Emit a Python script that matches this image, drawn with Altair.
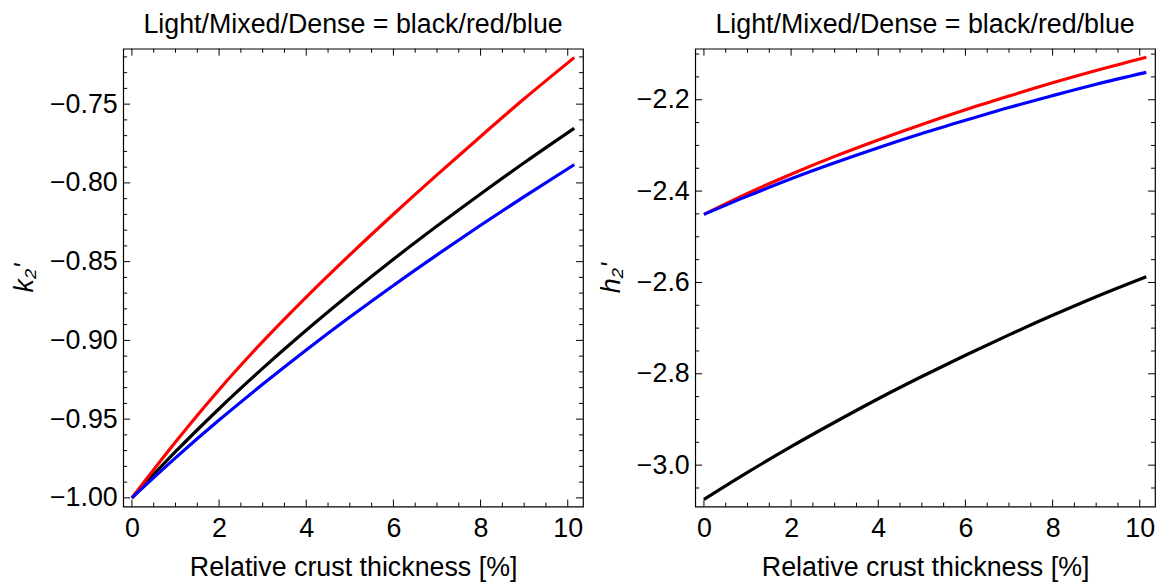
import altair as alt
import pandas as pd

# ---- data ----
x_vals = [0, 1, 2, 3, 4, 5, 6, 7, 8, 9, 10.15]

k2_light = [-1.0, -0.9707, -0.9434, -0.9178, -0.8936, -0.8706, -0.8485, -0.8274, -0.8070, -0.7872, -0.7653]
k2_mixed = [-1.0, -0.9645, -0.9313, -0.9008, -0.8725, -0.8457, -0.8199, -0.7949, -0.7705, -0.7466, -0.7204]
k2_dense = [-1.0, -0.9746, -0.9506, -0.9279, -0.9061, -0.8852, -0.8651, -0.8457, -0.8269, -0.8087, -0.7884]

h2_light = [-3.075, -3.0158, -2.9595, -2.9061, -2.8546, -2.8060, -2.7594, -2.7147, -2.6720, -2.6312, -2.5875]
h2_mixed = [-2.451, -2.405, -2.363, -2.324, -2.288, -2.254, -2.222, -2.192, -2.163, -2.136, -2.107]
h2_dense = [-2.451, -2.411, -2.373, -2.338, -2.305, -2.274, -2.245, -2.217, -2.191, -2.166, -2.140]

# tick values
x_major = [0, 2, 4, 6, 8, 10]
x_minor = [0.5, 1, 1.5, 2.5, 3, 3.5, 4.5, 5, 5.5, 6.5, 7, 7.5, 8.5, 9, 9.5]
k_major = [-1.00, -0.95, -0.90, -0.85, -0.80, -0.75]
k_minor = [-0.99, -0.98, -0.97, -0.96, -0.94, -0.93, -0.92, -0.91, -0.89, -0.88, -0.87, -0.86,
           -0.84, -0.83, -0.82, -0.81, -0.79, -0.78, -0.77, -0.76, -0.74, -0.73, -0.72]
h_major = [-3.0, -2.8, -2.6, -2.4, -2.2]
h_minor = [-3.05, -2.95, -2.9, -2.85, -2.75, -2.7, -2.65, -2.55, -2.5, -2.45, -2.35, -2.3, -2.25,
           -2.15, -2.1]

series_colors = {"Light": "black", "Mixed": "#ff0000", "Dense": "#0000ff"}

TITLE = "Light/Mixed/Dense = black/red/blue"
XTITLE = "Relative crust thickness [%]"
FONT = "Liberation Sans"
FS = 27
W, H = 463, 461
MAJ, MIN = 7, 4


def panel(series, ydomain, ymajor, yminor, yfmt, ytitle):
    xscale = alt.Scale(domain=[-0.2, 10.35], nice=False, zero=False)
    yscale = alt.Scale(domain=ydomain, nice=False, zero=False)
    xaxis = alt.Axis(values=x_major, format="d", title=XTITLE)
    yaxis = alt.Axis(values=ymajor, format=yfmt, title=ytitle, titleFontStyle="italic")

    def X(f="x"):
        return alt.X(f"{f}:Q", scale=xscale, axis=xaxis)

    def Y(f="y"):
        return alt.Y(f"{f}:Q", scale=yscale, axis=yaxis)

    layers = []
    for name in ["Light", "Mixed", "Dense"]:
        df = pd.DataFrame({"x": x_vals, "y": series[name]})
        layers.append(
            alt.Chart(df).mark_line(strokeWidth=3.2, interpolate="monotone", color=series_colors[name])
            .encode(x=X(), y=Y())
        )

    def xticks(vals, L):
        df = pd.DataFrame({"x": vals})
        b = alt.Chart(df).mark_rule(color="black", strokeWidth=1).encode(
            x=X(), y=alt.value(H), y2=alt.value(H - L))
        t = alt.Chart(df).mark_rule(color="black", strokeWidth=1).encode(
            x=X(), y=alt.value(0), y2=alt.value(L))
        return [b, t]

    def yticks(vals, L):
        df = pd.DataFrame({"y": vals})
        l = alt.Chart(df).mark_rule(color="black", strokeWidth=1).encode(
            y=Y(), x=alt.value(0), x2=alt.value(L))
        r = alt.Chart(df).mark_rule(color="black", strokeWidth=1).encode(
            y=Y(), x=alt.value(W), x2=alt.value(W - L))
        return [l, r]

    ticks = xticks(x_major, MAJ) + xticks(x_minor, MIN) + yticks(ymajor, MAJ) + yticks(yminor, MIN)
    return alt.layer(*ticks, *layers).properties(
        width=W, height=H,
        title=alt.TitleParams(TITLE, fontSize=FS, font=FONT, fontWeight="normal",
                              color="black", frame="group", anchor="middle", offset=9),
    )


left = panel({"Light": k2_light, "Mixed": k2_mixed, "Dense": k2_dense},
             [-1.0055, -0.7148], k_major, k_minor, ".2f", "k₂'")
right = panel({"Light": h2_light, "Mixed": h2_mixed, "Dense": h2_dense},
              [-3.0906, -2.0883], h_major, h_minor, ".1f", "h₂'")

chart = alt.hconcat(left, right, spacing=12).properties(
    padding={"left": 2, "top": 0, "right": 0, "bottom": 0}
).configure_view(stroke="black", strokeWidth=1.2).configure_axis(
    grid=False, domain=False, ticks=False, tickSize=0,
    labelFont=FONT, labelFontSize=FS, labelColor="black", labelPadding=6,
    titleFont=FONT, titleFontSize=FS, titleFontWeight="normal", titleColor="black",
).configure_axisX(labelPadding=9, titlePadding=13).configure_axisY(titlePadding=11)

chart.save("out.html", embed_options={"renderer": "svg", "actions": False})
